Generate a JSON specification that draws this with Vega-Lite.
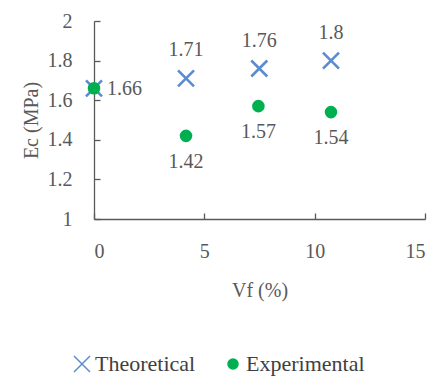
{
  "$schema": "https://vega.github.io/schema/vega-lite/v6.json",
  "autosize": "none",
  "width": 331,
  "height": 198,
  "padding": {"left": 94, "top": 21, "right": 12, "bottom": 157},
  "background": "white",
  "config": {
    "view": {"stroke": null},
    "font": "Liberation Serif",
    "axis": {
      "grid": false,
      "domainColor": "#595959",
      "tickColor": "#595959",
      "labelColor": "#595959",
      "titleColor": "#595959",
      "labelFont": "Liberation Serif",
      "titleFont": "Liberation Serif",
      "labelFontSize": 20,
      "titleFontSize": 20,
      "titleFontWeight": "normal",
      "domainWidth": 1.3,
      "tickWidth": 1.3
    },
    "legend": {
      "labelFont": "Liberation Serif",
      "labelFontSize": 22,
      "labelColor": "#404040"
    }
  },
  "data": {
    "values": [
      {"vf": 0, "ec": 1.66, "series": "Theoretical"},
      {"vf": 4.17, "ec": 1.71, "series": "Theoretical"},
      {"vf": 7.49, "ec": 1.76, "series": "Theoretical"},
      {"vf": 10.74, "ec": 1.8, "series": "Theoretical"},
      {"vf": 0, "ec": 1.66, "series": "Experimental"},
      {"vf": 4.17, "ec": 1.42, "series": "Experimental"},
      {"vf": 7.45, "ec": 1.57, "series": "Experimental"},
      {"vf": 10.74, "ec": 1.54, "series": "Experimental"}
    ]
  },
  "encoding": {
    "x": {
      "field": "vf", "type": "quantitative",
      "scale": {"domain": [0, 15], "nice": false, "zero": false},
      "axis": {"values": [0, 5, 10, 15], "tickSize": -6, "labelPadding": 28, "title": "Vf (%)", "titlePadding": 19}
    },
    "y": {
      "field": "ec", "type": "quantitative",
      "scale": {"domain": [1, 2], "nice": false, "zero": false},
      "axis": {"values": [1, 1.2, 1.4, 1.6, 1.8, 2], "format": "~g", "tickSize": -6, "labelPadding": 28, "title": "Ec (MPa)", "titlePadding": 6}
    }
  },
  "layer": [
    {
      "mark": {"type": "point", "filled": true, "strokeWidth": 2.6, "opacity": 1},
      "encoding": {
        "color": {
          "field": "series", "type": "nominal",
          "scale": {"domain": ["Theoretical", "Experimental"], "range": ["#5B8BD0", "#00B050"]},
          "legend": {"orient": "none", "direction": "horizontal", "legendX": -23, "legendY": 332, "title": null, "symbolSize": 160, "columnPadding": 26, "labelOffset": 2}
        },
        "stroke": {
          "field": "series", "type": "nominal",
          "scale": {"domain": ["Theoretical", "Experimental"], "range": ["#5B8BD0", "#00B050"]},
          "legend": null
        },
        "shape": {
          "field": "series", "type": "nominal",
          "scale": {"domain": ["Theoretical", "Experimental"], "range": ["M-1,-1L1,1M1,-1L-1,1", "circle"]},
          "legend": {"orient": "none", "direction": "horizontal", "legendX": -23, "legendY": 332, "title": null, "symbolSize": 160, "columnPadding": 26, "labelOffset": 2}
        },
        "size": {
          "field": "series", "type": "nominal",
          "scale": {"domain": ["Theoretical", "Experimental"], "range": [256, 100]},
          "legend": null
        },
        "order": {"field": "series", "sort": "descending"}
      }
    },
    {
      "transform": [{"filter": "datum.series === 'Theoretical' && datum.vf > 0"}],
      "mark": {"type": "text", "dy": -28, "fontSize": 20, "color": "#595959", "font": "Liberation Serif"},
      "encoding": {"text": {"field": "ec", "type": "quantitative", "format": "~g"}}
    },
    {
      "transform": [{"filter": "datum.series === 'Theoretical' && datum.vf === 0"}],
      "mark": {"type": "text", "align": "left", "dx": 13, "dy": 1, "fontSize": 20, "color": "#595959", "font": "Liberation Serif"},
      "encoding": {"text": {"field": "ec", "type": "quantitative", "format": "~g"}}
    },
    {
      "transform": [{"filter": "datum.series === 'Experimental' && datum.vf > 0"}],
      "mark": {"type": "text", "dy": 26, "fontSize": 20, "color": "#595959", "font": "Liberation Serif"},
      "encoding": {"text": {"field": "ec", "type": "quantitative", "format": "~g"}}
    }
  ]
}
